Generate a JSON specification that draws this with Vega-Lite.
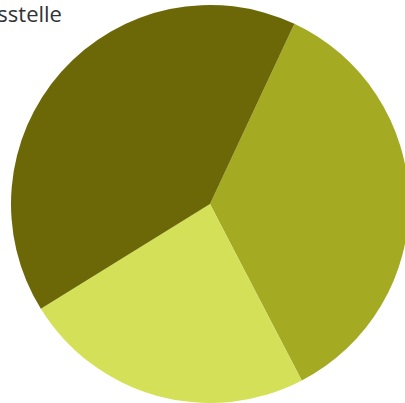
{
  "$schema": "https://vega.github.io/schema/vega-lite/v6.json",
  "width": 390,
  "height": 398,
  "autosize": {"type": "none"},
  "padding": {"left": 15, "top": 5, "right": 0, "bottom": 0},
  "background": "white",
  "title": {
    "text": "Geschäftsstelle",
    "anchor": "start",
    "frame": "bounds",
    "font": "Open Sans",
    "fontSize": 22,
    "fontWeight": "normal",
    "color": "#333333",
    "baseline": "alphabetic",
    "dx": -104,
    "dy": 43
  },
  "data": {
    "values": [
      {"kategorie": "B", "anteil": 35.4, "idx": 1},
      {"kategorie": "C", "anteil": 23.8, "idx": 2},
      {"kategorie": "A", "anteil": 40.8, "idx": 3}
    ]
  },
  "mark": {"type": "arc", "outerRadius": 199, "stroke": null},
  "encoding": {
    "theta": {"field": "anteil", "type": "quantitative", "stack": true, "scale": {"range": [0.438, 6.7212]}},
    "order": {"field": "idx", "type": "quantitative"},
    "color": {
      "field": "kategorie",
      "type": "nominal",
      "scale": {"domain": ["A", "B", "C"], "range": ["#6c6807", "#a4ab23", "#d5e059"]},
      "legend": null
    }
  },
  "config": {"view": {"stroke": null}}
}
